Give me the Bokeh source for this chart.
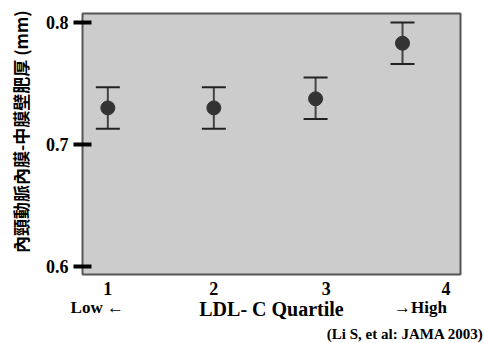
from bokeh.plotting import figure
from bokeh.models import (Range1d, FixedTicker, ColumnDataSource, Whisker, TeeHead,
                          LinearAxis, Title)
from bokeh.embed import file_html
from bokeh.resources import INLINE

# ---- data ----
quartile_labels = ["1", "2", "3", "4"]
label_pos = [1.0, 2.0, 3.06, 4.19]
point_x = [1.0, 2.0, 2.96, 3.78]
imt_mean = [0.730, 0.730, 0.7375, 0.783]
imt_upper = [0.747, 0.747, 0.755, 0.800]
imt_lower = [0.713, 0.713, 0.721, 0.766]
y_ticks = [0.6, 0.7, 0.8]
end_labels = ["Low \u2190", "\u2192High"]
end_pos = [0.90, 3.95]
x_title = "LDL- C Quartile"
y_title = "\u00a0\u00a0\u3000內頸動脈內膜-中膜壁肥厚 (mm)"
citation = "(Li S, et al: JAMA 2003)"

SERIF = "Liberation Serif"
CJK = "Noto Sans CJK TC"

p = figure(width=484, height=343, output_backend="svg", toolbar_location=None,
           x_range=Range1d(0.761, 4.327), y_range=Range1d(0.5934, 0.8074))
p.min_border_left = 82
p.min_border_right = 24
p.min_border_top = 13
p.min_border_bottom = 69
p.background_fill_color = "#cccccc"
p.border_fill_color = "white"
p.outline_line_color = "#555555"
p.outline_line_width = 2
p.grid.visible = False

# y axis
ya = p.yaxis[0]
ya.ticker = FixedTicker(ticks=y_ticks)
ya.minor_tick_line_color = None
ya.axis_line_color = None
ya.major_tick_in = 9
ya.major_tick_out = 9
ya.major_tick_line_width = 4
ya.major_tick_line_color = "black"
ya.major_label_standoff = 5
ya.major_label_text_font = SERIF
ya.major_label_text_font_style = "bold"
ya.major_label_text_font_size = "18px"
ya.major_label_text_color = "black"
ya.axis_label = y_title
ya.axis_label_text_font = CJK
ya.axis_label_text_font_style = "bold"
ya.axis_label_text_font_size = "17px"
ya.axis_label_text_color = "black"
ya.axis_label_standoff = 10

# x axis (quartile numbers)
xa = p.xaxis[0]
xa.ticker = FixedTicker(ticks=label_pos)
xa.major_label_overrides = {pos: lab for pos, lab in zip(label_pos, quartile_labels)}
xa.minor_tick_line_color = None
xa.major_tick_line_color = None
xa.major_tick_in = 0
xa.major_tick_out = 0
xa.axis_line_color = None
xa.major_label_standoff = 7
xa.major_label_text_font = SERIF
xa.major_label_text_font_style = "bold"
xa.major_label_text_font_size = "18px"
xa.major_label_text_color = "black"

# second x axis (Low / High + title)
xb = LinearAxis(ticker=FixedTicker(ticks=end_pos),
                major_label_overrides={pos: lab for pos, lab in zip(end_pos, end_labels)})
xb.minor_tick_line_color = None
xb.major_tick_line_color = None
xb.major_tick_in = 0
xb.major_tick_out = 0
xb.axis_line_color = None
xb.major_label_standoff = 0
xb.major_label_text_font = SERIF
xb.major_label_text_font_style = "bold"
xb.major_label_text_font_size = "17px"
xb.major_label_text_color = "black"
xb.axis_label = x_title
xb.axis_label_text_font = SERIF
xb.axis_label_text_font_style = "bold"
xb.axis_label_text_font_size = "20px"
xb.axis_label_text_color = "black"
xb.axis_label_standoff = -22
p.add_layout(xb, "below")

p.add_layout(Title(text=citation, align="right", offset=-23, text_font=SERIF,
                   text_font_style="bold", text_font_size="15px", text_color="black",
                   standoff=2), "below")

src = ColumnDataSource(dict(x=point_x, m=imt_mean, up=imt_upper, lo=imt_lower))

w = Whisker(source=src, base="x", upper="up", lower="lo", dimension="height",
            line_color="#444444", line_width=2,
            upper_head=TeeHead(size=24, line_color="#222222", line_width=2),
            lower_head=TeeHead(size=24, line_color="#222222", line_width=2))
p.add_layout(w)

p.scatter("x", "m", source=src, size=14, fill_color="#333333", line_color="#333333")

open("out.html", "w").write(file_html(p, INLINE))
